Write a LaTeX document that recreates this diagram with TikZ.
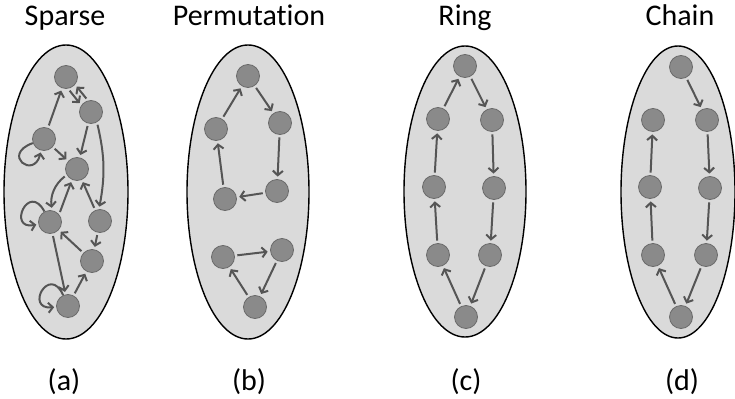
\documentclass[tikz,border=0pt]{standalone}
\usepackage{fontspec}
\setmainfont{Carlito}[Ligatures=NoCommon]
\usetikzlibrary{arrows.meta}
\definecolor{blobfill}{HTML}{DADADA}
\definecolor{vfill}{HTML}{8A8A8A}
\definecolor{vedge}{HTML}{6A6A6A}
\definecolor{arrcol}{HTML}{555555}
\tikzset{
  blob/.style={draw=black, line width=1.4bp, fill=blobfill},
  vert/.style={circle, draw=vedge, line width=0.8bp, fill=vfill, minimum size=23bp, inner sep=0pt},
  arr/.style={draw=arrcol, line width=2bp, -{Straight Barb[length=4.5bp,width=10bp]}, shorten >=2.5bp, shorten <=2.5bp},
  selfloop/.style={draw=arrcol, line width=2bp, -{Straight Barb[length=4.5bp,width=10bp]}, shorten >=2bp},
  title/.style={anchor=base, font=\fontsize{30bp}{36bp}\selectfont, inner sep=0pt},
}
\begin{document}
\begin{tikzpicture}[x=1bp, y=1bp]
\useasboundingbox (0,0) rectangle (735,398);

% titles and captions
\node[title] (ta) at (65,373) {Sparse};
\node[title] (tb) at (249,373) {Permutation};
\node[title] (tc) at (465,373) {Ring};
\node[title] (td) at (680,373) {Chain};
\node[title] (la) at (64,8) {(a)};
\node[title] (lb) at (249,8) {(b)};
\node[title] (lc) at (466,8) {(c)};
\node[title] (ld) at (682,8) {(d)};

% containers
\fill[blob] (66,206) ellipse [x radius=62, y radius=147];
\fill[blob] (248,206) ellipse [x radius=61, y radius=147];
\fill[blob] (465,206.5) ellipse [x radius=61, y radius=145.5];
\fill[blob] (678,206) ellipse [x radius=57, y radius=146];

% (a) sparse graph
\node[vert] (n1) at (66,321) {};
\node[vert] (n2) at (91,286) {};
\node[vert] (n3) at (44,259) {};
\node[vert] (n4) at (77,229) {};
\node[vert] (n5) at (50,176) {};
\node[vert] (n6) at (100,177) {};
\node[vert] (n7) at (92,137) {};
\node[vert] (n8) at (68,92) {};
\draw[arr] (n1.-80) -- (n2.145);
\draw[arr] (n2.105) -- (n1.-40);
\draw[arr] (n3) -- (n1);
\draw[arr] (n3) -- (n4);
\draw[arr] (n2) -- (n4);
\draw[arr] (n2.-60) to[bend left=12] (n6.95);
\draw[arr] (n4.210) to[bend right=30] (n5.80);
\draw[arr] (n5.40) -- (n4.245);
\draw[arr] (n6) -- (n4);
\draw[arr] (n6) -- (n7);
\draw[arr] (n7) -- (n5);
\draw[arr] (n5) -- (n8);
\draw[arr] (n8) -- (n7);
\draw[selfloop] (n3.200) .. controls +(200:34) and +(256:30) .. (n3.256);
\draw[selfloop] (n5.118) .. controls +(118:34) and +(191:32) .. (n5.191);
\draw[selfloop] (n8.114) .. controls +(114:34) and +(185:32) .. (n8.185);

% (b) permutation
\node[vert] (p1) at (248,322) {};
\node[vert] (p2) at (280,275) {};
\node[vert] (p3) at (216,269) {};
\node[vert] (p4) at (277,207) {};
\node[vert] (p5) at (225,199) {};
\node[vert] (p6) at (223,141) {};
\node[vert] (p7) at (282,148) {};
\node[vert] (p8) at (255,91) {};
\draw[arr] (p3) -- (p1);
\draw[arr] (p1) -- (p2);
\draw[arr] (p2) -- (p4);
\draw[arr] (p4) -- (p5);
\draw[arr] (p5) -- (p3);
\draw[arr] (p6) -- (p7);
\draw[arr] (p7) -- (p8);
\draw[arr] (p8) -- (p6);

% (c) ring
\node[vert] (r1) at (465,332) {};
\node[vert] (r2) at (492,278) {};
\node[vert] (r3) at (494,210) {};
\node[vert] (r4) at (490,143) {};
\node[vert] (r5) at (466,81) {};
\node[vert] (r6) at (438,143) {};
\node[vert] (r7) at (434,211) {};
\node[vert] (r8) at (438,279) {};
\foreach \a/\b in {r1/r2,r2/r3,r3/r4,r4/r5,r5/r6,r6/r7,r7/r8,r8/r1}
  \draw[arr] (\a) -- (\b);

% (d) chain
\node[vert] (c1) at (681,331) {};
\node[vert] (c2) at (707,278) {};
\node[vert] (c3) at (710,210) {};
\node[vert] (c4) at (706,143) {};
\node[vert] (c5) at (681,81) {};
\node[vert] (c6) at (653,143) {};
\node[vert] (c7) at (650,211) {};
\node[vert] (c8) at (653,278) {};
\foreach \a/\b in {c1/c2,c2/c3,c3/c4,c4/c5,c5/c6,c6/c7,c7/c8}
  \draw[arr] (\a) -- (\b);
\end{tikzpicture}
\end{document}
